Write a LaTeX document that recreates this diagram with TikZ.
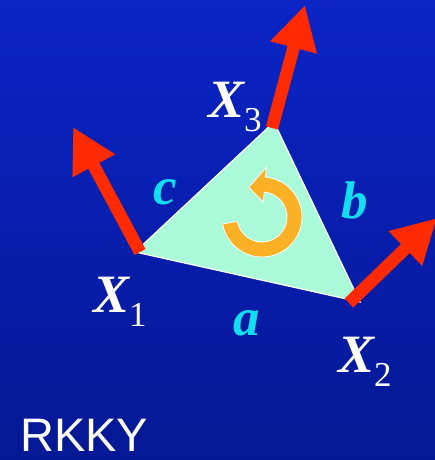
\documentclass[tikz,border=0pt]{standalone}
\usepackage{fontspec}
\setmainfont{Liberation Serif}
\setsansfont{Liberation Sans}
\usetikzlibrary{arrows.meta, calc}

\definecolor{bgtop}{RGB}{10,36,198}
\definecolor{bgbot}{RGB}{5,24,148}
\definecolor{mint}{RGB}{170,249,216}
\definecolor{spinred}{RGB}{255,42,0}
\definecolor{looporange}{RGB}{251,176,38}
\definecolor{sidecyan}{RGB}{18,222,240}
\newcommand{\vsub}[1]{\raisebox{-14pt}{\fontsize{35}{35}\selectfont\mdseries\upshape #1}}

\begin{document}
\begin{tikzpicture}[
      x=1pt, y=1pt,
      spin/.style={draw=spinred, line width=12.5pt, -{Triangle[length=44pt, width=45pt]}},
      plaq/.style={draw=white, line width=1.2pt, fill=mint},
      vlab/.style={text=white, inner sep=0pt, anchor=base west, font=\fontsize{54}{54}\selectfont\bfseries\itshape},
      side/.style={text=sidecyan, inner sep=0pt, font=\fontsize{53}{53}\selectfont\bfseries\itshape},
      chir/.style={fill=looporange, draw=white, line width=0.8pt}
    ]
    
    \shade[top color=bgtop, bottom color=bgbot] (0,0) rectangle (435,460);
    \useasboundingbox (0,0) rectangle (435,460);
    
    \coordinate (v1) at (135,208);
    \coordinate (v2) at (360,158);
    \coordinate (v3) at (274,338);
    \coordinate (s1) at (140,208);
    \coordinate (s2) at (349,157);
    \coordinate (s3) at (272,332);
    \coordinate (t1) at (73,333);
    \coordinate (t2) at (437,242);
    \coordinate (t3) at (305,455);
    \coordinate (rot) at (262,243);
    
    \draw[plaq] (v1) -- (v2) -- (v3) -- cycle;
    
    \draw[chir] ($(rot)+(190:40pt)$) arc[start angle=190, end angle=445, radius=40pt]
      -- ($(rot)+(445:50pt)$) -- ($(rot)+(474:32.5pt)$) -- ($(rot)+(445:15pt)$)
      -- ($(rot)+(445:25pt)$) arc[start angle=445, end angle=190, radius=25pt] -- cycle;
    
    \draw[spin] (s1) -- (t1);
    \draw[spin] (s2) -- (t2);
    \draw[spin] (s3) -- (t3);
    
    \node[vlab] (x1) at (93,147) {X\vsub{1}};
    \node[vlab] (x2) at (338,87) {X\vsub{2}};
    \node[vlab] (x3) at (208,342) {X\vsub{3}};
    
    \node[side] (a) at (247,137) {a};
    \node[side] (b) at (355,260) {b};
    \node[side] (c) at (165,268) {c};
    
    \node[text=white, anchor=base west, inner sep=0pt, font=\sffamily\fontsize{47}{47}\selectfont] (rkky) at (20,9) {RKKY};
  \end{tikzpicture}
\end{document}
